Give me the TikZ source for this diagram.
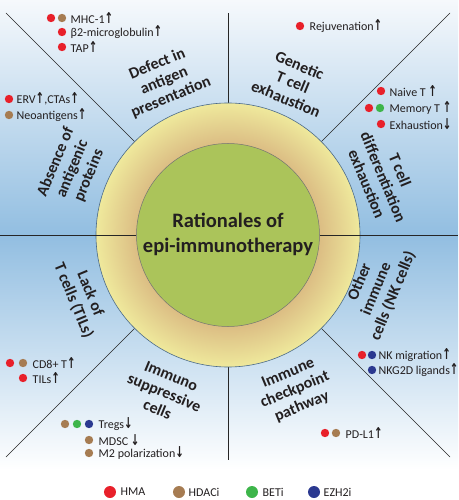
\documentclass[tikz,border=0pt]{standalone}
\usepackage{fontspec}
\setmainfont{Carlito}
\newfontfamily\arrowfont{DejaVu Sans}
\usepackage{graphicx}
\usetikzlibrary{calc}
\definecolor{bgtop}{HTML}{F6F9FC}
\definecolor{bgmid}{HTML}{92BEE1}
\definecolor{ringin}{HTML}{DCBE84}
\definecolor{ringmid}{HTML}{E3CF8E}
\definecolor{ringout}{HTML}{EFE99C}
\definecolor{core}{HTML}{ABC45A}
\definecolor{hma}{HTML}{E8202A}
\definecolor{hdaci}{HTML}{A67C52}
\definecolor{beti}{HTML}{3DB54A}
\definecolor{ezh}{HTML}{2B3990}
\definecolor{ink}{HTML}{231F20}
\definecolor{rim}{HTML}{4A6A8A}
\pgfdeclareradialshading{ringshade}{\pgfpointorigin}{color(0bp)=(ringin); color(17.5bp)=(ringin); color(20.5bp)=(ringmid); color(25bp)=(ringout); color(50bp)=(ringout)}
\newcommand{\up}{{\arrowfont\bfseries\scalebox{0.85}[1.25]{↑}}}
\newcommand{\dn}{{\arrowfont\bfseries\scalebox{0.85}[1.25]{↓}}}

\begin{document}
\begin{tikzpicture}[x=1pt, y=1pt,
        item/.style={anchor=west, inner sep=0.5pt, text=ink, font=\fontsize{12}{14}\selectfont},
        sector/.style={align=center, inner sep=0pt, text=ink, font=\fontsize{16}{18}\selectfont\bfseries},
        ray/.style={line width=0.6, draw=black!85},
        dot/.style={radius=4.2},
        keydot/.style={radius=6}]
    \useasboundingbox (-228,-265) rectangle (230,235);
    % background
    \shade[top color=bgtop, bottom color=bgmid] (-228,235) rectangle (230,0);
    \shade[top color=bgmid, bottom color=white] (-228,0) rectangle (230,-235);

    % dividing lines
    \draw[ray] (90:132) -- (90:222);
    \draw[ray] (270:132) -- (270:225);
    \foreach \a in {45,135,225,315}
        \draw[ray] (\a:132) -- (\a:314);

    % rings
    \shade[shading=ringshade] (0,0) circle[radius=132pt];
    \draw[line width=0.6, draw=rim] (0,0) circle[radius=132pt];
    \draw[ray] (0:91.5) -- (0:230);
    \draw[ray] (180:91.5) -- (180:228);
    \draw[line width=0.5, fill=core, draw=black!55] (0,0) circle[radius=91.5pt];
    \node[align=center, text=ink, font=\fontsize{20.5}{25}\selectfont\bfseries] (title) at (0,1) {Rationales of\\epi-immunotherapy};

    % sector labels
    \node[sector, rotate=22.5] (present) at (112.5:167) {Defect in\\antigen\\presentation};
    \node[sector, rotate=-22.5] (genetic) at (67:166) {Genetic\\T cell\\exhaustion};
    \node[sector, rotate=-67.5] (differ) at (20.5:166) {T cell\\differentiation\\exhaustion};
    \node[sector, rotate=67.5] (other) at (-20:158) {Other\\immune\\cells (NK cells)};
    \node[sector, rotate=22.5] (checkpt) at (-66.6:169) {Immune\\checkpoint\\pathway};
    \node[sector, rotate=-22.5] (suppress) at (-112:170) {Immuno\\suppressive\\cells};
    \node[sector, rotate=-67.5] (lack) at (203:159) {Lack of\\T cells (TILs)};
    \node[sector, rotate=67.5] (absence) at (157:169) {Absence of\\antigenic\\proteins};

    % defect in antigen presentation
    \fill[hma] (-177,217) circle[dot];
    \fill[hdaci] (-166,217) circle[dot];
    \node[item] (mhc) at (-158,217) {MHC-1\up};
    \fill[hma] (-166,203) circle[dot];
    \node[item] (b2m) at (-158,203) {β2-microglobulin\up};
    \fill[hma] (-166,188) circle[dot];
    \node[item] (tap) at (-158,188) {TAP\up};

    % absence of antigenic proteins
    \fill[hma] (-219,136) circle[dot];
    \node[item] (erv) at (-212,136) {ERV\up,CTAs\up};
    \fill[hdaci] (-219,120) circle[dot];
    \node[item] (neo) at (-212,120) {Neoantigens\up};

    % genetic T cell exhaustion
    \fill[hma] (72,209) circle[dot];
    \node[item] (rejuv) at (81,209) {Rejuvenation\up};

    % T cell differentiation
    \fill[hma] (153,144) circle[dot];
    \node[item] (naive) at (161,144) {Naive T \up};
    \fill[hma] (141,127) circle[dot];
    \fill[beti] (152,127) circle[dot];
    \node[item] (memory) at (161,127) {Memory T \up};
    \fill[hma] (153,111) circle[dot];
    \node[item] (exhaust) at (161,111) {Exhaustion\dn};

    % other immune cells
    \fill[hma] (134,-120) circle[dot];
    \fill[ezh] (144,-120) circle[dot];
    \node[item] (nkmig) at (150,-120) {NK migration\up};
    \fill[ezh] (144,-135) circle[dot];
    \node[item] (nkg2d) at (150,-135) {NKG2D ligands\up};

    % immune checkpoint
    \fill[hma] (97,-198) circle[dot];
    \fill[hdaci] (108,-198) circle[dot];
    \node[item] (pdl1) at (117,-198) {PD-L1\up};

    % lack of T cells
    \fill[hma] (-218,-128) circle[dot];
    \fill[hdaci] (-205,-128) circle[dot];
    \node[item] (cd8) at (-196,-128) {CD8+ T\up};
    \fill[hma] (-205,-143) circle[dot];
    \node[item] (tils) at (-196,-143) {TILs\up};

    % immuno suppressive cells
    \fill[hdaci] (-163,-189) circle[dot];
    \fill[beti] (-151,-189) circle[dot];
    \fill[ezh] (-139,-189) circle[dot];
    \node[item] (tregs) at (-130,-189) {Tregs\dn};
    \fill[hdaci] (-139,-205) circle[dot];
    \node[item] (mdsc) at (-130,-205) {MDSC \dn};
    \fill[hdaci] (-139,-218) circle[dot];
    \node[item] (m2) at (-130,-218) {M2 polarization\dn};

    % legend
    \fill[hma] (-118,-257) circle[keydot];
    \node[item] (kHMA) at (-108,-257) {HMA};
    \fill[hdaci] (-49,-257) circle[keydot];
    \node[item] (kHDAC) at (-40,-257) {HDACi};
    \fill[beti] (24,-257) circle[keydot];
    \node[item] (kBET) at (34,-257) {BETi};
    \fill[ezh] (86,-257) circle[keydot];
    \node[item] (kEZH) at (95,-257) {EZH2i};
\end{tikzpicture}
\end{document}
